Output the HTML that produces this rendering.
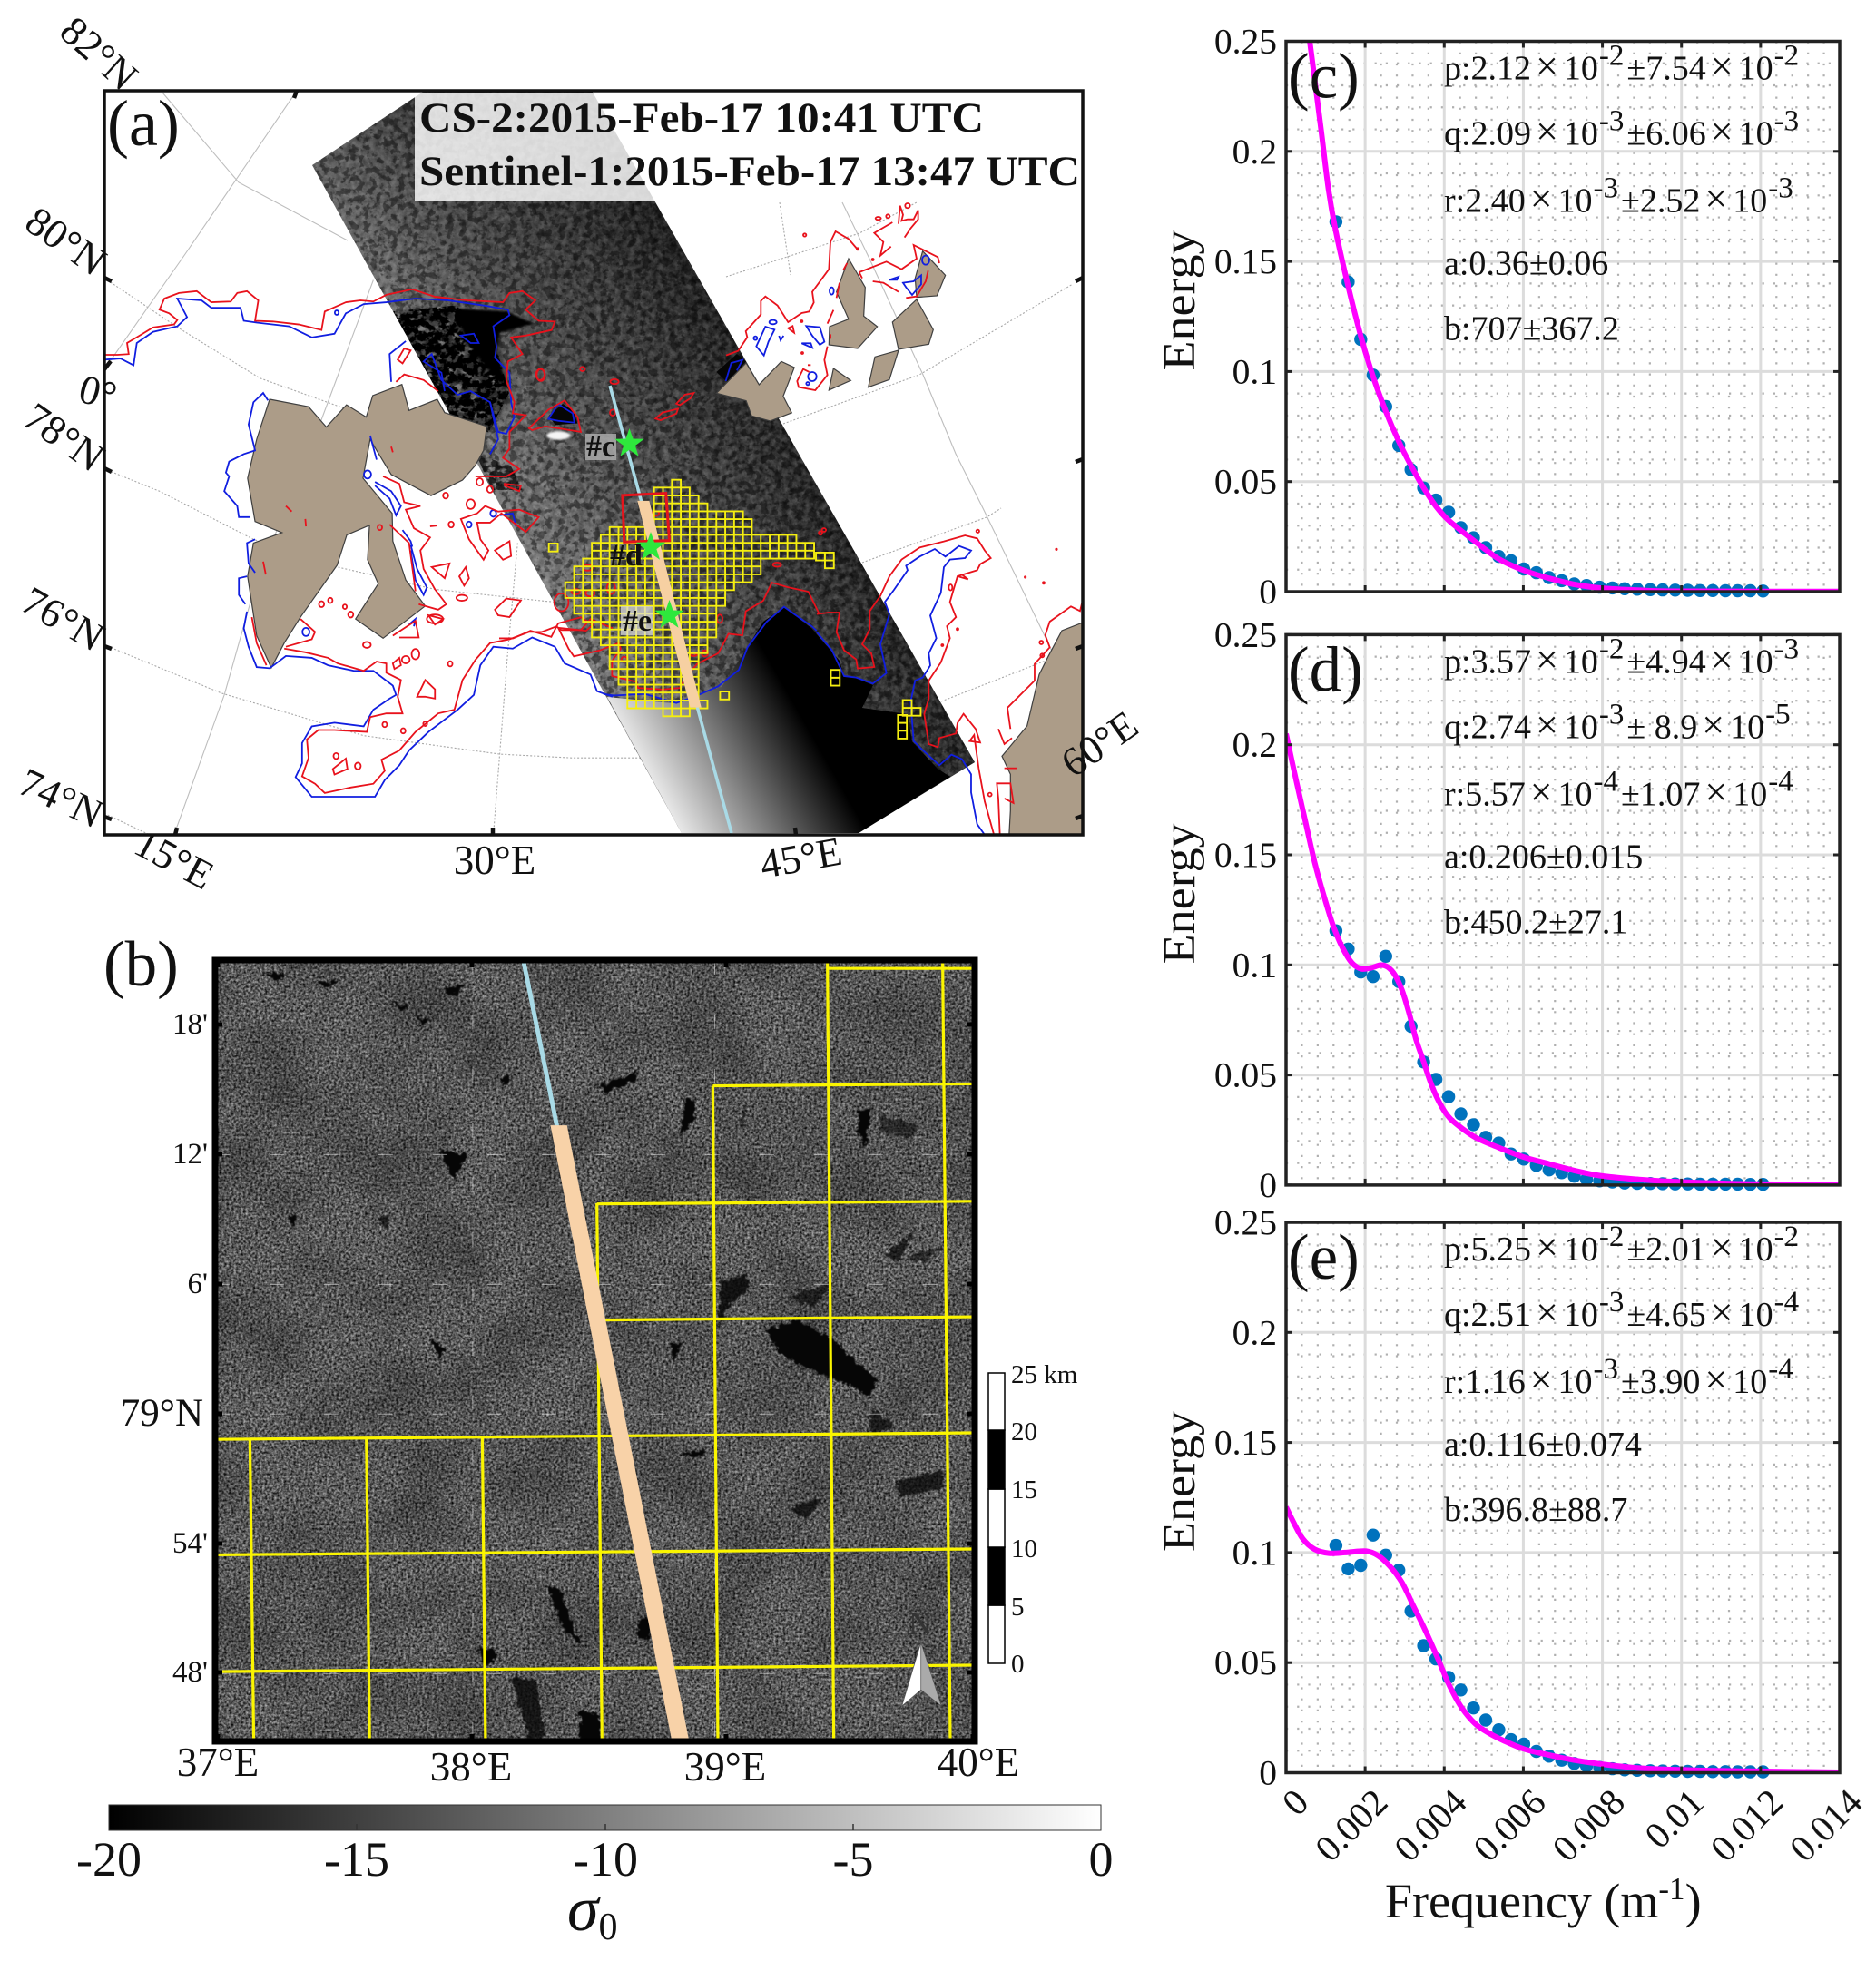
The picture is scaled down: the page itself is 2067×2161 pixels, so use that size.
<!DOCTYPE html>
<html lang="en">
<head>
<meta charset="utf-8">
<title>Sea ice SAR and wave energy spectra</title>
<style>
html,body{margin:0;padding:0;background:#fff}
svg{display:block}
text{font-family:"Liberation Serif","DejaVu Serif",serif;fill:#111}
.nss,.nss *{vector-effect:non-scaling-stroke}
</style>
</head>
<body>
<svg id="figure" xmlns="http://www.w3.org/2000/svg" width="2067" height="2161" viewBox="0 0 2067 2161">
<defs>
  <clipPath id="clipA"><rect x="115" y="100" width="1078" height="820"/></clipPath>
  <clipPath id="clipB"><rect x="237" y="1058" width="837" height="861"/></clipPath>
  <clipPath id="clipSwath"><polygon points="344,182 468,100 652,100 1074,840 946,918 751,918"/></clipPath>
  <linearGradient id="swathGrad" gradientUnits="userSpaceOnUse" x1="520" y1="500" x2="792" y2="345">
    <stop offset="0" stop-color="#7c7c7c"/><stop offset=".35" stop-color="#555"/><stop offset=".75" stop-color="#333"/><stop offset="1" stop-color="#1a1a1a"/>
  </linearGradient>
  <linearGradient id="swathTop" gradientUnits="userSpaceOnUse" x1="0" y1="120" x2="0" y2="470">
    <stop offset="0" stop-color="#000" stop-opacity=".2"/><stop offset="1" stop-color="#000" stop-opacity="0"/>
  </linearGradient>
  <linearGradient id="waterGrad" gradientUnits="userSpaceOnUse" x1="735" y1="905" x2="905" y2="808">
    <stop offset="0" stop-color="#f2f2f2"/><stop offset=".35" stop-color="#9a9a9a"/><stop offset=".7" stop-color="#404040"/><stop offset=".95" stop-color="#000"/>
  </linearGradient>
  <linearGradient id="cbarGrad" x1="0" x2="1" y1="0" y2="0">
    <stop offset="0" stop-color="#000"/><stop offset="1" stop-color="#fff"/>
  </linearGradient>
  <filter id="noiseB" x="0" y="0" width="100%" height="100%" color-interpolation-filters="sRGB">
    <feTurbulence type="fractalNoise" baseFrequency=".38" numOctaves="2" seed="4"/>
    <feColorMatrix type="matrix" values="0 0 0 .95 -.12 0 0 0 .95 -.12 0 0 0 .95 -.12 0 0 0 0 1"/>
  </filter>
  <filter id="noiseBLow" x="0" y="0" width="100%" height="100%" color-interpolation-filters="sRGB">
    <feTurbulence type="fractalNoise" baseFrequency=".012" numOctaves="3" seed="12"/>
    <feColorMatrix type="matrix" values="0 0 0 0 0 0 0 0 0 0 0 0 0 0 0 0 0 0 .5 -.17"/>
  </filter>
  <filter id="noiseS" x="0" y="0" width="100%" height="100%" color-interpolation-filters="sRGB">
    <feTurbulence type="fractalNoise" baseFrequency=".16" numOctaves="4" seed="9"/>
    <feColorMatrix type="matrix" values="0 0 0 1.6 -.3 0 0 0 1.6 -.3 0 0 0 1.6 -.3 0 0 0 0 .2"/>
    <feComposite in2="SourceAlpha" operator="in"/>
  </filter>
  <filter id="speck" x="0" y="0" width="100%" height="100%" color-interpolation-filters="sRGB">
    <feTurbulence type="fractalNoise" baseFrequency=".13" numOctaves="3" seed="17"/>
    <feColorMatrix type="matrix" values="0 0 0 0 0 0 0 0 0 0 0 0 0 0 0 0 0 0 8 -3.9"/>
    <feComposite in2="SourceAlpha" operator="in"/>
  </filter>
  <filter id="mottle" x="0" y="0" width="100%" height="100%" color-interpolation-filters="sRGB">
    <feTurbulence type="fractalNoise" baseFrequency=".05" numOctaves="3" seed="3"/>
    <feColorMatrix type="matrix" values="0 0 0 0 0 0 0 0 0 0 0 0 0 0 0 0 0 0 7 -2.6"/>
    <feComposite in2="SourceAlpha" operator="in"/>
  </filter>
  <filter id="mottleLight" x="0" y="0" width="100%" height="100%" color-interpolation-filters="sRGB">
    <feTurbulence type="fractalNoise" baseFrequency=".035" numOctaves="3" seed="21"/>
    <feColorMatrix type="matrix" values="0 0 0 0 .68 0 0 0 0 .68 0 0 0 0 .68 0 0 0 5 -2.6"/>
    <feComposite in2="SourceAlpha" operator="in"/>
  </filter>
  <filter id="rough" x="-30%" y="-30%" width="160%" height="160%" color-interpolation-filters="sRGB">
    <feTurbulence type="fractalNoise" baseFrequency=".12" numOctaves="3" seed="6" result="n"/>
    <feDisplacementMap in="SourceGraphic" in2="n" scale="14" xChannelSelector="R" yChannelSelector="G"/>
    <feGaussianBlur stdDeviation=".7"/>
  </filter>
  <filter id="soft" x="-20%" y="-20%" width="140%" height="140%"><feGaussianBlur stdDeviation="3"/></filter>
  <filter id="softer" x="-20%" y="-20%" width="140%" height="140%"><feGaussianBlur stdDeviation="6"/></filter>
</defs>

<!-- PANEL A -->
<g clip-path="url(#clipA)">
  <rect x="115" y="100" width="1078" height="820" fill="#fff"/>
  <g class="nss" fill="none" stroke="#bdbdbd" stroke-width="1.1">
    <g transform="matrix(.3571 0 0 .4082 115 280)" stroke-dasharray="2 2" stroke="#a8a8a8">
      <path d="M0 65L230 200L480 335L720 410L810 440L1175 500"/>
      <path d="M0 580L170 640L460 770L720 845L1020 905L1360 937L1700 960"/>
      <path d="M0 1055L360 1185L800 1300L1220 1350L1440 1360L1900 1360"/>
      <path d="M0 1510L140 1568"/>
      <path d="M1275 780L1245 1070L1200 1570"/>
    </g>
    <g transform="matrix(.3571 0 0 .4082 115 280)">
      <path d="M830 70L660 470L470 880L370 1190L215 1568"/>
    </g>
    <path d="M327 100L204 280L115 407M179 102L263 201L383 265"/>
    <path stroke="#a8a8a8" stroke-dasharray="2 2" d="M800 305L947 257L1010 223M863 467L1013 413L1182 313M950 620L1087 570L1103 560M1037 773L1147 730L1193 712M859 223L871 303"/>
    <path d="M928 223L957 283L1017 413L1053 500L1083 560L1157 713L1193 800"/>
  </g>
  <polygon points="344,182 468,100 652,100 1074,840 946,918 751,918" fill="url(#swathGrad)"/>
  <polygon points="344,182 468,100 652,100 1074,840 946,918 751,918" fill="#fff" filter="url(#noiseS)"/>
  <polygon points="344,182 468,100 652,100 1074,840 946,918 751,918" fill="url(#swathTop)"/>
  <polygon points="344,182 468,100 652,100 1074,840 946,918 751,918" fill="#000" opacity=".42" filter="url(#speck)"/>
  <polygon points="669,768 741,775 795,757 818,722 841,685 864,669 894,692 925,728 930,745 943,747 962,755 950,780 1000,787 1005,817 1017,830 1033,847 1047,856 946,918 751,918" fill="url(#waterGrad)"/>
  <g clip-path="url(#clipSwath)">
    <g transform="matrix(.4082 0 0 .3333 420 100)">
      <path d="M30 730L200 710L310 800L350 1000L295 1130L170 1060L70 860Z" fill="#222" opacity=".6" filter="url(#softer)"/>
      <path d="M30 730L200 710L300 800L345 1000L290 1130L170 1060L70 860Z" fill="#bbb" opacity=".55" filter="url(#mottleLight)"/>
      <path d="M30 730L200 710L300 800L345 1000L290 1130L170 1060L70 860Z" fill="#000" filter="url(#mottle)"/>
      <path d="M200 720L340 730L410 770L320 800L310 870L335 960L295 930L230 830Z" fill="#050505" filter="url(#soft)"/>
      <path d="M255 1200L350 1240L380 1320L300 1320Z" fill="#000" opacity=".7" filter="url(#mottle)"/>
      <path d="M452 1075L490 1035L520 1060L530 1100L470 1105Z" fill="#060606"/>
      <ellipse cx="478" cy="1140" rx="32" ry="14" fill="#f5f5f5" filter="url(#soft)"/>
      <path d="M905 930L960 870L985 895L935 965Z" fill="#060606"/>
    </g>
  </g>
  <g class="nss" fill="#ac9c88" stroke="#3f3f3f" stroke-width="1.2">
    <path transform="matrix(.3571 0 0 .4082 115 280)" d="M510 392L630 412L685 467L747 407L808 440L828 382L918 352L940 422L1027 392L1050 428L1180 465L1170 530L1145 570L1105 610L1008 652L885 595L840 530L820 500L798 605L888 700L890 775L930 880L990 950L860 1037L775 985L845 890L812 825L818 732L748 758L718 840L605 980L555 1050L515 1117L470 1030L442 870L460 780L548 752L465 722L442 605L470 500Z"/>
    <path transform="matrix(.4082 0 0 .3333 420 100)" d="M905 1000L985 900L1020 972L1080 895L1115 915L1085 1010L1108 1065L1050 1092L1000 1075L985 1025Z"/>
    <g transform="matrix(.3333 0 0 .3333 800 200)">
      <path d="M405 255L460 350L455 445L500 480L435 552L340 540L342 480L405 455L365 365Z"/>
      <path d="M630 390L685 490L670 538L570 555L550 465Z"/>
      <path d="M650 230L725 310L697 378L630 383L625 320Z"/>
      <path d="M570 558L540 655L470 680L492 580Z"/>
      <path d="M355 618L412 658L340 690Z"/>
    </g>
    <path transform="matrix(.3333 0 0 .3333 900 560)" d="M900 370L810 405L765 490L735 550L695 720L612 820L640 880L640 1000L635 1090L900 1090Z"/>
  </g>
  <g class="nss" fill="none" stroke="#101ee0" stroke-width="1.8">
    <g transform="matrix(.3571 0 0 .4082 115 280)">
      <path d="M0 285L50 282L90 300L100 240L150 210L225 195L255 170L225 120L300 125L330 145L420 145L430 180L470 185L570 195L640 225L710 215L745 160L800 135L870 130L960 120L1060 125L1180 140L1245 150L1250 165L1200 195L1210 250L1205 280L1250 320L1255 400L1265 440L1240 485L1215 480L1190 400L1130 370L1090 380L1040 340L1010 270L985 290L1040 320L1050 370"/>
      <path d="M885 345L880 270L930 235"/>
      <path d="M505 395L490 375L460 400L445 460L465 530L430 540L385 560L375 590L385 600L370 640L410 680L415 710L450 710M465 770L440 780L445 835L465 860M440 870L415 875L415 920L435 945"/>
      <path d="M440 965L430 1010L445 1060L470 1115L510 1118L530 1105L560 1085L640 1090L690 1110L770 1125L830 1125L890 1165L900 1190L880 1200L830 1230L800 1275L710 1265L640 1275L610 1320L610 1375L590 1412L640 1465L700 1465L770 1465L835 1465L865 1420L910 1380L940 1340L1000 1290L1090 1230L1140 1190L1160 1110L1200 1060L1260 1065L1320 1035L1390 1060L1420 1105L1500 1135L1520 1180L1568 1195"/>
      <path d="M835 615L885 640L915 680L900 705L880 660L835 625M920 745L945 775L950 790M945 785L965 850L995 900L985 920L960 880L945 800M820 490L840 555M1190 400L1215 500L1190 540"/>
      <path d="M1370 445L1400 405L1445 430L1450 455L1400 450ZM1100 220L1140 215L1155 240L1130 240Z"/>
      <circle cx="812" cy="595" r="11"/><circle cx="622" cy="1020" r="11"/><circle cx="717" cy="158" r="6"/><circle cx="1200" cy="700" r="9"/><circle cx="1125" cy="730" r="8"/>
      <path d="M940 1000L960 985L955 1005M1220 705L1260 700L1270 735"/>
    </g>
    <path transform="matrix(.3827 0 0 .3316 550 400)" d="M300 1100L330 1105L420 1100L510 1130L570 1105L630 1075L690 1020L715 945L770 860L820 810L850 835L900 875L914 890"/>
    <path transform="matrix(.3333 0 0 .3333 900 560)" d="M0 410L50 470L90 555L130 560L185 580L230 545L210 450L240 350L225 310L255 270L300 205L295 190L340 160L390 135L425 160L470 125L510 140L490 165L440 170L420 195L410 280L375 355L395 430L370 480L375 520L350 560L325 570L310 640L320 770L350 800L405 850L445 815L480 830L510 880L510 940L530 1045L555 1080"/>
    <g transform="matrix(.3333 0 0 .3333 800 200)">
      <path d="M100 545L130 480L160 490L140 530L125 575ZM175 510L180 525L190 510M265 478L310 482L325 530L310 540L285 510ZM250 535L280 535L285 550ZM540 325L570 315L565 325ZM585 335L620 330L645 310L645 340L615 375L595 350Z"/>
      <ellipse cx="155" cy="465" rx="12" ry="7"/><circle cx="97" cy="518" r="6"/><ellipse cx="349" cy="362" rx="7" ry="12"/><ellipse cx="285" cy="645" rx="14" ry="15"/><circle cx="270" cy="668" r="5"/><ellipse cx="660" cy="260" rx="12" ry="15"/>
    </g>
    <path transform="matrix(.4082 0 0 .3333 420 100)" d="M930 960L945 900L975 890L960 925"/>
  </g>
  <g class="nss" fill="none" stroke="#e8121c" stroke-width="1.8">
    <g transform="matrix(.3571 0 0 .4082 115 280)">
      <path d="M0 272L40 272L75 270L70 240L105 222L150 198L215 190L225 178L200 160L170 150L185 120L230 105L285 100L330 130L390 128L410 105L440 100L475 125L465 180L520 182L600 190L670 205L680 155L745 130L790 125L830 128L870 110L950 95L1020 115L1120 125L1230 130L1250 105L1290 100L1330 125L1300 150L1340 180L1390 182L1380 205L1300 220L1255 225L1290 270L1245 290L1240 340L1265 400L1260 430L1300 435L1250 480L1250 525L1230 550L1280 580L1240 600L1200 600L1145 600"/>
      <path d="M905 285L925 255L945 260L920 295ZM900 345L925 325L985 340L1030 370"/>
      <path d="M1310 470L1370 420L1420 395L1460 440L1470 480L1400 470L1360 465L1320 475Z"/>
      <path d="M455 980L470 1050L500 1110"/>
      <path d="M555 1065L620 1075L690 1090L720 1105L800 1125L840 1100L870 1105L870 1130L915 1150L905 1195L920 1240L870 1240L820 1250L810 1290L710 1285L660 1285L625 1310L630 1360L610 1410L650 1430L680 1455L760 1440L830 1430L865 1395L855 1365L910 1340L960 1290L1030 1240L1080 1230L1105 1150L1145 1095L1190 1050L1250 1040L1310 1020L1350 1020L1395 1005L1410 1015L1470 1015L1500 985L1568 1010"/>
      <path d="M860 600L910 620L925 670L975 680L930 690L955 740L1005 765L975 800L985 850L1020 905L1055 945L1030 960L970 945M880 730L940 780L960 910"/>
      <path d="M605 985L650 1020L640 1040L560 1060M890 1030L960 990L970 1035L910 1035M1000 975L1045 985L1020 1000Z"/>
      <path d="M1100 715L1150 700L1175 680L1215 695L1280 690L1340 710L1300 750L1225 700L1190 725L1150 725L1160 770L1185 800L1170 825L1125 770Z"/>
      <path d="M1205 800L1250 775L1255 815L1230 825ZM1010 845L1065 835L1050 875ZM1095 870L1115 845L1125 875L1110 895ZM1205 960L1240 930L1285 935L1250 980L1215 975ZM890 1105L910 1090L915 1110L895 1120ZM965 1195L990 1150L1020 1175L1020 1200L990 1195ZM705 1390L745 1362L750 1390L710 1405ZM1235 620L1285 625L1280 640L1235 625Z"/>
      <path d="M885 520L890 535M560 680L578 695M620 715L622 735M490 830L498 865M1005 735L1025 733"/>
      <circle cx="1053" cy="652" r="8"/><circle cx="1130" cy="675" r="13"/><circle cx="1070" cy="730" r="8"/><ellipse cx="1103" cy="928" rx="17" ry="8"/><circle cx="670" cy="945" r="8"/><circle cx="697" cy="935" r="7"/><circle cx="742" cy="952" r="6"/><circle cx="760" cy="973" r="8"/><ellipse cx="810" cy="1055" rx="12" ry="8"/><ellipse cx="930" cy="1095" rx="12" ry="10"/><ellipse cx="960" cy="1080" rx="12" ry="14"/><circle cx="1067" cy="1106" r="7"/><circle cx="865" cy="1270" r="7"/><circle cx="922" cy="1287" r="7"/><circle cx="990" cy="1268" r="6"/><circle cx="715" cy="1355" r="8"/><circle cx="782" cy="1382" r="9"/><circle cx="850" cy="738" r="7"/><ellipse cx="1410" cy="940" rx="22" ry="24"/><circle cx="1190" cy="635" r="9"/><circle cx="1158" cy="615" r="10"/><ellipse cx="1345" cy="325" rx="13" ry="15"/><ellipse cx="1020" cy="985" rx="25" ry="12"/>
    </g>
    <g transform="matrix(.3827 0 0 .3316 550 400)">
      <path d="M0 915L40 915L90 890L150 910L170 865L235 845L270 870L250 890L170 880L200 950L215 975L290 955L345 930L350 950L325 990L325 1040L395 1060L400 1080L470 1085L520 1080L540 1040L570 1000L630 965L640 945L660 900L700 905L710 825L760 790L785 730L830 745L890 760L920 830"/>
      <ellipse cx="255" cy="680" rx="14" ry="10"/><ellipse cx="220" cy="760" rx="12" ry="9"/><ellipse cx="262" cy="765" rx="13" ry="11"/><ellipse cx="322" cy="748" rx="12" ry="20"/><ellipse cx="360" cy="985" rx="8" ry="9"/><ellipse cx="450" cy="500" rx="10" ry="8"/><ellipse cx="120" cy="40" rx="12" ry="20"/><ellipse cx="635" cy="850" rx="8" ry="14"/><ellipse cx="592" cy="965" rx="9" ry="10"/><ellipse cx="800" cy="670" rx="12" ry="7"/><ellipse cx="925" cy="565" rx="5" ry="6"/><ellipse cx="935" cy="555" rx="6" ry="6"/><ellipse cx="560" cy="970" rx="9" ry="4"/><ellipse cx="332" cy="62" rx="12" ry="8"/><ellipse cx="327" cy="165" rx="8" ry="10"/><ellipse cx="240" cy="20" rx="7" ry="7"/>
      <path d="M510 135L535 105L560 100L550 118L520 140ZM450 185L470 165L515 152L510 168L465 190Z"/>
    </g>
    <g transform="matrix(.3333 0 0 .3333 900 560)">
      <path d="M0 350L40 345L75 345L65 410L90 470L130 500L135 530L190 525L180 480L150 450L175 400L175 340L210 290L240 225L280 170L340 130L420 110L490 90L530 100L555 140L575 165L540 185L530 205L465 225L440 310L460 360L430 390L440 430L410 510L370 570L370 630L355 680L370 780L400 790L405 760L460 745L465 710L485 680L525 730L540 775L505 770L520 750L535 860L555 970L585 1078"/>
      <path d="M605 1078L600 960L595 910L640 910L650 975L620 960M880 300L870 340L840 325L770 375L755 420L770 460L720 515L720 570L690 600L630 660L640 730M600 730L620 780L645 760M620 860L660 860M465 225L500 235L480 220"/>
      <ellipse cx="442" cy="262" rx="6" ry="10"/><circle cx="572" cy="947" r="6"/><circle cx="742" cy="444" r="6"/><circle cx="745" cy="487" r="6"/><circle cx="532" cy="76" r="5"/><circle cx="465" cy="400" r="3"/><circle cx="415" cy="453" r="3"/><circle cx="750" cy="247" r="3"/><circle cx="792" cy="136" r="2"/><circle cx="689" cy="228" r="2"/>
    </g>
    <g transform="matrix(.3333 0 0 .3333 800 200)">
      <path d="M0 575L40 560L70 515L65 495L115 440L115 395L130 380L170 410L205 465L250 435L275 430L290 400L285 365L340 290L345 200L362 165L405 190L435 225"/>
      <path d="M570 140L575 80L585 110L580 130L600 125L620 125L635 95L635 125L610 155L590 185M550 135L490 170L520 200L510 245L545 215"/>
      <path d="M440 300L530 265L580 290L630 255L620 210L660 230L700 250L705 270M440 300L450 320M485 330L520 335L570 365M595 385L630 380L660 330L668 295"/>
      <path d="M375 335L365 385M355 425L335 470M345 505L345 520M335 545L325 590L335 640L295 690L240 680L235 660L255 620L275 630M270 607L280 607M205 485L220 478L225 500ZM400 270L388 292"/>
      <ellipse cx="503" cy="122" rx="9" ry="5"/><circle cx="535" cy="115" r="6"/><circle cx="600" cy="80" r="8"/><circle cx="260" cy="177" r="5"/><circle cx="250" cy="462" r="3"/><circle cx="252" cy="567" r="3"/><circle cx="435" cy="223" r="3"/><circle cx="485" cy="258" r="3"/>
    </g>
  </g>
  <path id="yellowGrid" class="nss" transform="matrix(.3827 0 0 .3316 550 400)" fill="none" stroke="#f5ee10" stroke-width="1.9" d=""/>
  <line x1="672" y1="425" x2="806" y2="918" stroke="#a9dae6" stroke-width="3.5"/>
  <polygon transform="matrix(.3827 0 0 .3316 550 400)" points="398,458 432,458 582,1145 550,1145" fill="#f6d0a2"/>
  <polygon transform="matrix(.3827 0 0 .3316 550 400)" class="nss" points="355,440 480,433 490,590 360,595" fill="none" stroke="#e5141c" stroke-width="3"/>
  <rect x="645" y="478" width="34" height="29" fill="#aaa" opacity=".85"/>
  <rect x="684" y="668" width="36" height="32" fill="#ddd" opacity=".7"/>
  <polygon transform="translate(693.5 489)" points="0,-17 4,-5.5 16.2,-5.3 6.4,2.1 10,13.8 0,6.8 -10,13.8 -6.4,2.1 -16.2,-5.3 -4,-5.5" fill="#2ee83c"/>
  <polygon transform="translate(717 603)" points="0,-17 4,-5.5 16.2,-5.3 6.4,2.1 10,13.8 0,6.8 -10,13.8 -6.4,2.1 -16.2,-5.3 -4,-5.5" fill="#2ee83c"/>
  <polygon transform="translate(737.5 678)" points="0,-17 4,-5.5 16.2,-5.3 6.4,2.1 10,13.8 0,6.8 -10,13.8 -6.4,2.1 -16.2,-5.3 -4,-5.5" fill="#2ee83c"/>
  <text x="646" y="503" font-size="34" font-weight="bold">#c</text>
  <text x="672" y="623" font-size="34" font-weight="bold">#d</text>
  <text x="686" y="695" font-size="34" font-weight="bold">#e</text>
  <rect x="457" y="102" width="736" height="120" fill="#fff" opacity=".83"/>
  <text x="462" y="145" font-size="47" font-weight="bold" textLength="622" lengthAdjust="spacingAndGlyphs">CS-2:2015-Feb-17 10:41 UTC</text>
  <text x="462" y="204" font-size="47" font-weight="bold" textLength="728" lengthAdjust="spacingAndGlyphs">Sentinel-1:2015-Feb-17 13:47 UTC</text>
</g>
<rect x="115" y="100" width="1078" height="820" fill="none" stroke="#111" stroke-width="3.5"/>
<g stroke="#111" stroke-width="4.5" fill="none">
  <path d="M115 306l8 4M115 407l7 -9M115 516l8 4M115 712l8 3M115 900l8 3M1193 306l-8 4M1193 506l-8 3M1193 712l-8 3M1193 899l-8 3M193 920l2 -8M543 920v-8M877 920l-1 -8M327 100l-3 8"/>
</g>
<text x="118" y="160" font-size="72">(a)</text>
<g font-size="45" text-anchor="middle">
  <text transform="translate(99 70) rotate(42)">82°N</text>
  <text transform="translate(64 278) rotate(35)">80°N</text>
  <text transform="translate(104 447) rotate(15)">0°</text>
  <text transform="translate(62 494) rotate(35)">78°N</text>
  <text transform="translate(62 695) rotate(30)">76°N</text>
  <text transform="translate(61 893) rotate(25)">74°N</text>
  <text transform="translate(185 960) rotate(28)">15°E</text>
  <text transform="translate(545 963)">30°E</text>
  <text transform="translate(885 960) rotate(-10)">45°E</text>
  <text transform="translate(1220 832) rotate(-35)">60°E</text>
</g>

<!-- PANEL B -->
<g clip-path="url(#clipB)">
  <rect x="237" y="1058" width="837" height="861" filter="url(#noiseB)"/>
  <rect x="237" y="1058" width="837" height="861" filter="url(#noiseBLow)"/>
  <g transform="matrix(.7015 0 0 .7149 100 1040)" fill="#060606" filter="url(#rough)">
    <path d="M1060 595L1110 580L1165 610L1210 650L1235 670L1225 700L1190 680L1140 660L1085 635Z"/>
    <path d="M990 520L1030 510L1035 530L1000 560L985 595Z" opacity=".85"/>
    <path d="M1205 255L1225 255L1218 310L1205 295Z"/><path d="M1265 830L1340 810L1340 840L1270 852Z" opacity=".75"/>
    <path d="M935 240L948 240L948 270L925 300Z"/><path d="M795 222L860 195L855 212L810 228Z"/>
    <path d="M550 320L590 325L570 365Z"/><path d="M535 610L558 625L548 642Z"/><path d="M910 615L928 615L915 645Z"/>
    <path d="M715 990L738 995L760 1060L775 1085L745 1060Z"/><path d="M860 1040L880 1040L878 1072L860 1068Z"/>
    <path d="M660 1130L700 1135L712 1225L688 1225Z" opacity=".8"/><path d="M768 1180L800 1190L802 1232L768 1228Z"/>
    <path d="M608 1085L638 1090L632 1112L615 1108Z"/><path d="M268 45L312 45L290 56Z"/><path d="M350 60L392 56L370 68Z"/>
    <path d="M510 115L532 115L520 125Z"/><path d="M470 90L500 95L490 102Z"/><path d="M550 72L590 60L572 80Z"/>
    <path d="M643 207L662 200L650 220Z"/><path d="M925 785L968 780L950 792Z"/><path d="M1098 870L1152 852L1125 888Z" opacity=".75"/>
    <path d="M1245 480L1295 440L1270 488Z" opacity=".7"/><path d="M1095 545L1165 522L1135 560Z" opacity=".65"/>
    <path d="M1280 480L1340 465L1310 495Z" opacity=".6"/><path d="M1020 275L1030 240L1025 290Z" opacity=".5"/>
    <path d="M1225 715L1265 745L1225 755Z" opacity=".7"/><path d="M1240 265L1300 280L1290 300L1240 290Z" opacity=".55"/>
    <path d="M310 420L325 420L315 435Z"/><path d="M450 425L470 420L465 438Z" opacity=".7"/>
  </g>
  <g class="nss" transform="matrix(.7015 0 0 .7149 100 1040)" fill="none" stroke="#fff" stroke-width="1" stroke-dasharray="16 44" opacity=".5">
    <path d="M195 125H1385M195 325H1385M195 525H1385M195 725H1385M195 925H1385M195 1125H1385M600 25V1230M980 25V1230M220 25V1230"/>
  </g>
  <g class="nss" transform="matrix(.7015 0 0 .7149 100 1040)" fill="none" stroke="#fbf500" stroke-width="3.2">
    <path d="M1157 38H1385M977 219L1385 216M795 401L1385 397M795 580L1385 575M195 764L1385 754M195 942L1385 933M195 1122L1385 1112"/>
    <path d="M250 764L256 1230M433 762L438 1230M615 760L620 1230M795 400L803 1230M977 219L985 1230M1157 25L1167 1230M1338 25L1350 1230"/>
  </g>
  <g transform="matrix(.7015 0 0 .7149 100 1040)">
    <line x1="680" y1="28" x2="733" y2="285" stroke="#a9dae6" stroke-width="7"/>
    <polygon points="722,280 748,280 942,1240 915,1240" fill="#f8d2a8"/>
  </g>
  <g transform="matrix(.7015 0 0 .7149 100 1040)">
    <polygon points="1304,1077 1274,1175 1304,1150" fill="#fff" stroke="#555" stroke-width="1"/>
    <polygon points="1304,1077 1336,1175 1304,1150" fill="#aaa" stroke="#555" stroke-width="1"/>
  </g>
</g>
<text x="1014" y="1801" font-size="36" text-anchor="middle" style="fill:#333">N</text>
<rect x="237" y="1058" width="837" height="861" fill="none" stroke="#000" stroke-width="7"/>
<g stroke="#000" stroke-width="5">
  <path d="M237 1129h8M237 1272h8M237 1415h8M237 1558h8M237 1701h8M237 1843h8M1074 1129h-8M1074 1272h-8M1074 1415h-8M1074 1558h-8M1074 1701h-8M1074 1843h-8M240 1919v-8M520 1919v-8M800 1919v-8M1072 1919v-8M240 1058v8M520 1058v8M800 1058v8"/>
</g>
<text x="114" y="1086" font-size="71">(b)</text>
<g text-anchor="end" font-size="33">
  <text x="229" y="1139">18'</text>
  <text x="229" y="1282">12'</text>
  <text x="229" y="1425">6'</text>
  <text x="224" y="1571" font-size="43">79°N</text>
  <text x="229" y="1711">54'</text>
  <text x="229" y="1853">48'</text>
</g>
<g text-anchor="middle" font-size="45">
  <text x="240" y="1957">37°E</text>
  <text x="519" y="1962">38°E</text>
  <text x="799" y="1962">39°E</text>
  <text x="1078" y="1957">40°E</text>
</g>
<g>
  <rect x="1089" y="1769" width="18" height="64" fill="#fff" stroke="#000" stroke-width="1.5"/>
  <rect x="1089" y="1705" width="18" height="64" fill="#000" stroke="#000" stroke-width="1.5"/>
  <rect x="1089" y="1641" width="18" height="64" fill="#fff" stroke="#000" stroke-width="1.5"/>
  <rect x="1089" y="1576" width="18" height="65" fill="#000" stroke="#000" stroke-width="1.5"/>
  <rect x="1089" y="1513" width="18" height="63" fill="#fff" stroke="#000" stroke-width="1.5"/>
  <g font-size="29">
    <text x="1114" y="1524">25 km</text>
    <text x="1114" y="1587">20</text>
    <text x="1114" y="1651">15</text>
    <text x="1114" y="1716">10</text>
    <text x="1114" y="1780">5</text>
    <text x="1114" y="1843">0</text>
  </g>
</g>

<!-- COLORBAR -->
<g>
  <rect x="120" y="1989" width="1093" height="28" fill="url(#cbarGrad)" stroke="#333" stroke-width="1"/>
  <path d="M393 2017v-7M667 2017v-7M940 2017v-7" stroke="#333" stroke-width="1.5"/>
  <g font-size="54" text-anchor="middle">
    <text x="120" y="2067">-20</text>
    <text x="393" y="2067">-15</text>
    <text x="667" y="2067">-10</text>
    <text x="940" y="2067">-5</text>
    <text x="1213" y="2067">0</text>
  </g>
  <text x="625" y="2127" font-size="70" font-style="italic">σ<tspan font-size="42" font-style="normal" dy="10">0</tspan></text>
</g>

<!-- SPECTRA -->
<g id="charts"></g>
</svg>

<script>
/* spectra data */
const freqs = [0.00126,0.00157,0.00189,0.00220,0.00252,0.00285,0.00316,0.00348,0.00379,0.00411,0.00442,0.00474,0.00505,0.00538,0.00569,0.00601,0.00633,0.00665,0.00697,0.00729,0.00760,0.00793,0.00825,0.00856,0.00888,0.00921,0.00952,0.00984,0.01016,0.01047,0.01079,0.01111,0.01142,0.01174,0.01206];
const energyC = [0.168,0.1407,0.1146,0.0984,0.0841,0.0664,0.0554,0.0471,0.0416,0.0361,0.0291,0.0245,0.02,0.016,0.014,0.0103,0.0086,0.0064,0.005,0.0035,0.0028,0.002,0.0017,0.0013,0.0011,0.0009,0.0008,0.0007,0.0006,0.0005,0.0005,0.0004,0.0004,0.0004,0.0003];
const energyD = [0.1155,0.1072,0.0968,0.0947,0.1039,0.0924,0.0721,0.0559,0.048,0.0401,0.0323,0.0274,0.0217,0.0191,0.0141,0.0118,0.0089,0.0069,0.0056,0.004,0.0026,0.0019,0.0014,0.0009,0.0008,0.0007,0.0006,0.0005,0.0005,0.0004,0.0004,0.0004,0.0004,0.0003,0.0003];
const energyE = [0.1032,0.0926,0.0942,0.1079,0.0988,0.092,0.0734,0.0577,0.0517,0.0433,0.0376,0.0294,0.0239,0.0195,0.015,0.013,0.0097,0.0075,0.0057,0.0042,0.0031,0.0024,0.0018,0.0013,0.0011,0.0009,0.0008,0.0007,0.0006,0.0006,0.0005,0.0005,0.0004,0.0004,0.0004];
const fitFreqC = [0.000598,0.000717,0.000897,0.001076,0.001255,0.001554,0.00189,0.0022,0.00252,0.00285,0.00316,0.00348,0.00379,0.00411,0.00475,0.00538,0.00601,0.00665,0.00729,0.00793,0.00888,0.01,0.014];
const fitEnergyC = [0.25,0.2338,0.2081,0.1823,0.1639,0.14,0.1161,0.0977,0.082,0.0682,0.0572,0.0471,0.0388,0.0324,0.0232,0.0149,0.0097,0.0061,0.0033,0.0017,0.0007,0.0002,0.0001];
const fitFreqD = [0,0.00024,0.00048,0.00072,0.00096,0.0012,0.00143,0.00167,0.00191,0.00215,0.00239,0.00257,0.00275,0.00293,0.00311,0.00329,0.00347,0.00365,0.00383,0.00406,0.0043,0.00478,0.00538,0.00601,0.00665,0.00729,0.00793,0.00888,0.01,0.01172,0.014];
const fitEnergyD = [0.205,0.185,0.1659,0.1468,0.1312,0.1173,0.1077,0.1008,0.0982,0.0987,0.0999,0.099,0.0955,0.0886,0.0782,0.066,0.0565,0.0469,0.0391,0.0321,0.0278,0.0217,0.017,0.0127,0.0096,0.0066,0.0043,0.0026,0.0014,0.0005,0.0002];
const fitFreqE = [0,0.00018,0.00042,0.00072,0.00108,0.00155,0.00203,0.00233,0.00263,0.00293,0.00323,0.00353,0.00383,0.00412,0.00442,0.00478,0.00514,0.0055,0.00601,0.00665,0.00729,0.00793,0.00888,0.01,0.01172,0.014];
const fitEnergyE = [0.1207,0.1141,0.1063,0.1015,0.0997,0.1001,0.1006,0.0986,0.0937,0.0864,0.0754,0.0643,0.0522,0.04,0.0301,0.0223,0.0179,0.0146,0.0108,0.008,0.0057,0.004,0.0022,0.0013,0.0007,0.0002];
const yTickValues = [0,0.05,0.1,0.15,0.2,0.25];
const yTickLabels = ['0','0.05','0.1','0.15','0.2','0.25'];
const xTickValues = [0,0.002,0.004,0.006,0.008,0.01,0.012,0.014];
const xTickLabels = ['0','0.002','0.004','0.006','0.008','0.01','0.012','0.014'];
const paramsC = [['p','2.12','-2','7.54','-2'],['q','2.09','-3','6.06','-3'],['r','2.40','-3','2.52','-3']];
const paramsD = [['p','3.57','-2','4.94','-3'],['q','2.74','-3',' 8.9','-5'],['r','5.57','-4','1.07','-4']];
const paramsE = [['p','5.25','-2','2.01','-2'],['q','2.51','-3','4.65','-4'],['r','1.16','-3','3.90','-4']];
const plainC = ['a:0.36±0.06','b:707±367.2'];
const plainD = ['a:0.206±0.015','b:450.2±27.1'];
const plainE = ['a:0.116±0.074','b:396.8±88.7'];

/* yellow analysis grid rows: row index, first column, last column (map illustration) */
const gridRows = [[0,12,12],[1,10,13],[2,10,14],[3,10,15],[4,10,19],[5,10,20],[6,5,20],[7,4,25],[8,3,27],[9,3,27],[10,2,21],[11,1,21],[12,1,20],[13,0,18],[14,0,17],[15,1,17],[16,1,16],[17,2,16],[18,3,16],[19,3,16],[20,4,15],[21,5,15],[22,5,14],[23,5,14],[24,6,14],[25,6,14],[26,7,14],[27,7,14],[28,7,15],[29,11,13]];
const gridSingles = [[143,600],[912,630],[938,630],[938,656],[955,1020],[955,1046],[636,1092],[1162,1120],[1162,1146],[1188,1146],[1148,1170],[1148,1196],[1148,1222]];

const NS = 'http://www.w3.org/2000/svg';
const chartsRoot = document.getElementById('charts');
function el(tag, attrs, parent) {
  const e = document.createElementNS(NS, tag);
  for (const k in attrs) e.setAttribute(k, attrs[k]);
  parent.appendChild(e);
  return e;
}

/* yellow grid */
(function () {
  const cw = 25.6, ch = 26.2, ox = 190, oy = 388;
  let d = '';
  gridRows.forEach(r => {
    for (let c = r[1]; c <= r[2]; c++) {
      const x = ox + c * cw, y = oy + r[0] * ch;
      d += 'M' + x + ' ' + y + 'h' + cw + 'v' + ch + 'h' + (-cw) + 'z';
    }
  });
  gridSingles.forEach(s => {
    d += 'M' + s[0] + ' ' + s[1] + 'h' + cw + 'v' + ch + 'h' + (-cw) + 'z';
  });
  document.getElementById('yellowGrid').setAttribute('d', d);
})();

const plotLeft = 1417, plotRight = 2027, plotHeight = 606.5;
const xMax = 0.014, yMax = 0.25;
function xScale(f) { return plotLeft + f / xMax * (plotRight - plotLeft); }
function yScaleFor(top) { return e => top + plotHeight - e / yMax * plotHeight; }

function smoothPath(xs, ys) {
  let d = 'M' + xs[0].toFixed(1) + ' ' + ys[0].toFixed(1);
  for (let i = 0; i < xs.length - 1; i++) {
    const x0 = xs[Math.max(i - 1, 0)], y0 = ys[Math.max(i - 1, 0)];
    const x1 = xs[i], y1 = ys[i], x2 = xs[i + 1], y2 = ys[i + 1];
    const x3 = xs[Math.min(i + 2, xs.length - 1)], y3 = ys[Math.min(i + 2, xs.length - 1)];
    d += 'C' + (x1 + (x2 - x0) / 6).toFixed(1) + ' ' + (y1 + (y2 - y0) / 6).toFixed(1) + ' ' +
         (x2 - (x3 - x1) / 6).toFixed(1) + ' ' + (y2 - (y3 - y1) / 6).toFixed(1) + ' ' +
         x2.toFixed(1) + ' ' + y2.toFixed(1);
  }
  return d;
}

function drawPanel(name, top, energy, fitF, fitE, params, plain, showX) {
  const y = yScaleFor(top), bottom = top + plotHeight;
  const g = el('g', {}, chartsRoot);
  
  
  const clipId = 'clip-' + name;
  const cp = el('clipPath', { id: clipId }, g);
  el('rect', { x: plotLeft, y: top, width: plotRight - plotLeft, height: plotHeight }, cp);

  const minor = el('g', { stroke: '#b0b0b0', 'stroke-width': 2.2, 'stroke-dasharray': '2.2 10', fill: 'none' }, g);
  
  
  let md = '';
  for (let i = 1; i < 35; i++) if (i % 5) md += 'M' + xScale(i * 0.0004) + ' ' + top + 'V' + bottom;
  for (let i = 1; i < 25; i++) if (i % 5) md += 'M' + plotLeft + ' ' + y(i * 0.01) + 'H' + plotRight;
  el('path', { d: md }, minor);

  const major = el('g', { stroke: '#dcdcdc', 'stroke-width': 3, fill: 'none' }, g);
  
  
  xTickValues.forEach(v => { el('line', { x1: xScale(v), x2: xScale(v), y1: top, y2: bottom }, major); });
  yTickValues.forEach(v => { el('line', { x1: plotLeft, x2: plotRight, y1: y(v), y2: y(v) }, major); });

  const dots = el('g', {}, g);
  
  
  energy.forEach((v, i) => {
    const c = el('circle', { cx: xScale(freqs[i]).toFixed(1), cy: y(v).toFixed(1), r: 7.2, fill: '#0072bd' }, dots);
    
    
  });

  const curve = el('path', { d: smoothPath(fitF.map(xScale), fitE.map(y)), fill: 'none', stroke: '#ff00ff', 'stroke-width': 6, 'clip-path': 'url(#' + clipId + ')' }, g);
  
  

  const frame = el('rect', { x: plotLeft, y: top, width: plotRight - plotLeft, height: plotHeight, fill: 'none', stroke: '#222', 'stroke-width': 3.5 }, g);
  
  

  const ticks = el('g', { stroke: '#222', 'stroke-width': 3 }, g);
  
  
  yTickValues.forEach(v => {
    el('line', { x1: plotLeft, x2: plotLeft + 7, y1: y(v), y2: y(v) }, ticks);
    el('line', { x1: plotRight, x2: plotRight - 7, y1: y(v), y2: y(v) }, ticks);
  });
  xTickValues.forEach(v => {
    el('line', { x1: xScale(v), x2: xScale(v), y1: bottom, y2: bottom - 7 }, ticks);
    el('line', { x1: xScale(v), x2: xScale(v), y1: top, y2: top + 7 }, ticks);
  });

  yTickValues.forEach((v, i) => {
    const t = el('text', { x: 1407, y: y(v) + 13, 'font-size': 39.5, 'text-anchor': 'end' }, g);
    t.textContent = yTickLabels[i];
    
    
  });

  if (showX) {
    xTickValues.forEach((v, i) => {
      const xp = xScale(v) + 27, yp = bottom + 35;
      const t = el('text', { transform: 'translate(' + xp + ' ' + yp + ') rotate(-45)', 'font-size': 41, 'text-anchor': 'end' }, g);
      t.textContent = xTickLabels[i];
      
      
    });
  }

  const ylab = el('text', { transform: 'translate(1316 ' + (top + 363) + ') rotate(-90)', 'font-size': 51, textLength: 155, lengthAdjust: 'spacingAndGlyphs' }, g);
  ylab.textContent = 'Energy';
  
  

  const letter = el('text', { x: 1419, y: top + 62, 'font-size': 71 }, g);
  letter.textContent = '(' + name + ')';
  
  

  const lineOffsets = [42, 114, 188, 257, 329];
  params.forEach((p, i) => {
    const t = el('text', { x: 1591, y: top + lineOffsets[i], 'font-size': 38 }, g);
    
    
    const span = (txt, a) => { const s = el('tspan', a || {}, t); s.textContent = txt; return s; };
    span(p[0] + ':' + p[1]);
    span('×', { 'font-size': 44, dx: 5 });
    span('10', { dx: 6 });
    span(p[2], { 'font-size': 33, dy: -16, dx: 1 });
    span('±' + p[3], { dy: 16, dx: 3 });
    span('×', { 'font-size': 44, dx: 5 });
    span('10', { dx: 6 });
    span(p[4], { 'font-size': 33, dy: -16, dx: 1 });
  });
  plain.forEach((txt, i) => {
    const t = el('text', { x: 1591, y: top + lineOffsets[3 + i], 'font-size': 38 }, g);
    t.textContent = txt;
    
    
  });
}

drawPanel('c', 45.5, energyC, fitFreqC, fitEnergyC, paramsC, plainC, false);
drawPanel('d', 699.4, energyD, fitFreqD, fitEnergyD, paramsD, plainD, false);
drawPanel('e', 1347, energyE, fitFreqE, fitEnergyE, paramsE, plainE, true);

const xTitle = el('text', { x: 1526, y: 2113, 'font-size': 54 }, chartsRoot);


const xt1 = el('tspan', {}, xTitle);
xt1.textContent = 'Frequency (m';
const xt2 = el('tspan', { 'font-size': 35, dy: -20 }, xTitle);
xt2.textContent = '-1';
const xt3 = el('tspan', { dy: 20 }, xTitle);
xt3.textContent = ')';
</script>
</body>
</html>
